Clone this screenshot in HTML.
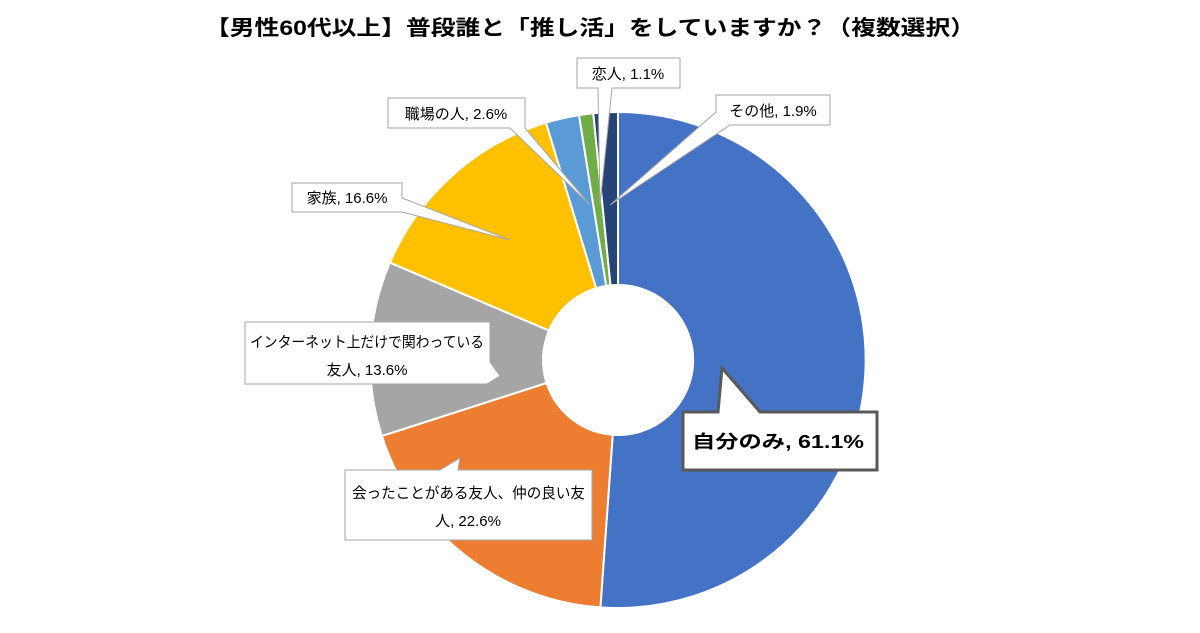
<!DOCTYPE html>
<html><head><meta charset="utf-8"><style>
body{margin:0;background:#fff;width:1200px;height:628px;overflow:hidden}
svg text{font-family:"Liberation Sans","Noto Sans CJK JP",sans-serif;fill:#000}
</style></head><body>
<svg width="1200" height="628" viewBox="0 0 1200 628">
<text x="205" y="35" font-size="21" font-weight="bold" textLength="770" lengthAdjust="spacingAndGlyphs">【男性60代以上】普段誰と「推し活」をしていますか？（複数選択）</text>
<g stroke="#fff" stroke-width="2">
<path d="M618,112 A248,248 0 1 1 600.4,607.4 L612.7,434.8 A75,75 0 1 0 618,285 Z" fill="#4472C4"/>
<path d="M600.4,607.4 A248,248 0 0 1 381.9,436 L546.6,383 A75,75 0 0 0 612.7,434.8 Z" fill="#ED7D31"/>
<path d="M381.9,436 A248,248 0 0 1 389.9,262.6 L549,330.6 A75,75 0 0 0 546.6,383 Z" fill="#A5A5A5"/>
<path d="M389.9,262.6 A248,248 0 0 1 546,122.7 L596.2,288.2 A75,75 0 0 0 549,330.6 Z" fill="#FFC000"/>
<path d="M546,122.7 A248,248 0 0 1 579,115.1 L606.2,285.9 A75,75 0 0 0 596.2,288.2 Z" fill="#5B9BD5"/>
<path d="M579,115.1 A248,248 0 0 1 593.3,113.2 L610.5,285.4 A75,75 0 0 0 606.2,285.9 Z" fill="#70AD47"/>
<path d="M593.3,113.2 A248,248 0 0 1 618,112 L618,285 A75,75 0 0 0 610.5,285.4 Z" fill="#264478"/>
</g>
<g fill="#fff" stroke="#a6a6a6" stroke-width="1">
<path d="M345,470 H440 L460,458 L458,470 H592 V540 H345 Z"/>
<path d="M245,322 H490 V362 L500,376 L487,384 H245 Z"/>
<path d="M292,183 H402 V198 L510,240 L402,212 H292 Z"/>
<path d="M388,98 H525 V128 H525 L590,205 L510,128 H388 Z"/>
<path d="M577,58 H680 V88 H612 L600,205 L598,88 H577 Z"/>
<path d="M716,95 H830 V125 H730 L610,205 L716,112 Z"/>
</g>
<path d="M683,412 H718 L722,368 L760,412 H877 V470 H683 Z" fill="#fff" stroke="#595959" stroke-width="3"/>
<text x="692" y="448" font-size="18" font-weight="bold" textLength="172" lengthAdjust="spacingAndGlyphs">自分のみ, 61.1%</text>
<text x="352" y="498" font-size="15" textLength="233" lengthAdjust="spacingAndGlyphs">会ったことがある友人、仲の良い友</text>
<text x="468" y="526" text-anchor="middle" font-size="15">人, 22.6%</text>
<text x="250" y="347" font-size="15" textLength="234" lengthAdjust="spacingAndGlyphs">インターネット上だけで関わっている</text>
<text x="367" y="375" text-anchor="middle" font-size="15">友人, 13.6%</text>
<text x="347" y="203" text-anchor="middle" font-size="15">家族, 16.6%</text>
<text x="456" y="119" text-anchor="middle" font-size="15">職場の人, 2.6%</text>
<text x="628" y="79" text-anchor="middle" font-size="15">恋人, 1.1%</text>
<text x="773" y="116" text-anchor="middle" font-size="15">その他, 1.9%</text>
</svg>
</body></html>
